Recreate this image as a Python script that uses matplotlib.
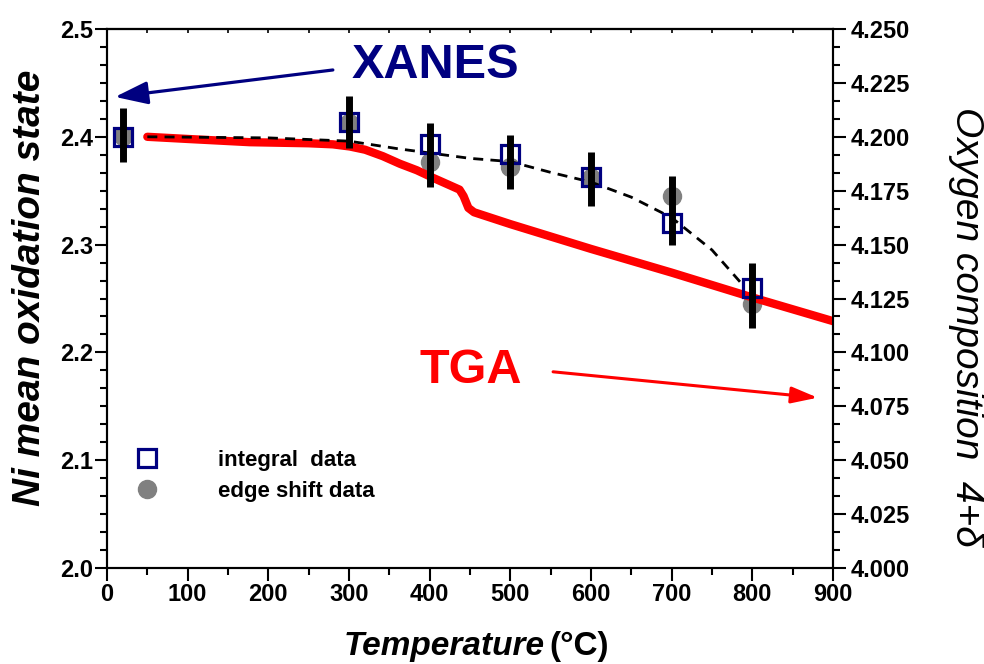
import matplotlib
matplotlib.use("Agg")
import matplotlib.pyplot as plt
from matplotlib.ticker import AutoMinorLocator, FormatStrFormatter
from matplotlib.lines import Line2D

plt.rcParams['font.family'] = ['Liberation Sans', 'DejaVu Sans']

# ---- data ----
temp_pts = [20, 300, 400, 500, 600, 700, 800]
integral_vals = [2.400, 2.414, 2.393, 2.384, 2.363, 2.320, 2.260]
edge_vals = [2.401, 2.413, 2.377, 2.372, 2.362, 2.345, 2.245]
err_center = [2.402, 2.414, 2.383, 2.377, 2.361, 2.332, 2.253]
err_size = [0.025, 0.024, 0.030, 0.025, 0.025, 0.032, 0.030]

fit_T = [50, 200, 300, 360, 450, 500, 550, 600, 650, 700, 750, 790]
fit_vals = [2.400, 2.399, 2.396, 2.389, 2.380, 2.377, 2.367, 2.358, 2.344, 2.325, 2.295, 2.261]

tga_T = [50, 100, 177, 250, 280, 301, 320, 342, 363, 384, 404, 437, 442, 448, 455,
         500, 600, 700, 800, 900]
tga_vals = [2.400, 2.398, 2.395, 2.394, 2.393, 2.391, 2.388, 2.382, 2.375, 2.369, 2.362,
            2.351, 2.345, 2.334, 2.330, 2.319, 2.296, 2.274, 2.251, 2.229]

x_ticks = [0, 100, 200, 300, 400, 500, 600, 700, 800, 900]
left_ticks = [2.0, 2.1, 2.2, 2.3, 2.4, 2.5]
right_ticks = [4.000, 4.025, 4.050, 4.075, 4.100, 4.125, 4.150, 4.175, 4.200, 4.225, 4.250]

NAVY = '#000080'
GRAY = '#808080'
TICK_FS = 17

fig = plt.figure(figsize=(9.84, 6.64), dpi=100)
ax = fig.add_axes([107/984, 1-568/664, (833-107)/984, (568-29)/664])

# markers and curves
ax.plot(temp_pts, edge_vals, 'o', color=GRAY, markersize=13, zorder=2)
ax.plot(tga_T, tga_vals, '-', color='#ff0000', lw=6, solid_capstyle='round',
        solid_joinstyle='round', zorder=3)
ax.plot(fit_T, fit_vals, '--', color='black', lw=2.0, dashes=(3.6, 2.6), zorder=4)
ax.plot(temp_pts, integral_vals, 's', mfc='none', mec=NAVY, mew=2.3,
        markersize=12.5, zorder=5)
ax.errorbar(temp_pts, err_center, yerr=err_size, fmt='none', ecolor='black',
            elinewidth=5, capsize=0, zorder=6)

ax.set_xlim(0, 900)
ax.set_ylim(2.0, 2.5)
ax.set_xticks(x_ticks)
ax.set_yticks(left_ticks)
ax.yaxis.set_major_formatter(FormatStrFormatter('%.1f'))
ax.xaxis.set_minor_locator(AutoMinorLocator(2))
ax.yaxis.set_minor_locator(AutoMinorLocator(6))

for s in ax.spines.values():
    s.set_linewidth(1.5)

ax.tick_params(axis='x', which='major', direction='out', length=9, width=1.5,
               labelsize=TICK_FS, pad=2, top=False)
ax.tick_params(axis='x', which='minor', direction='out', length=5, width=1.5, top=False)
ax.tick_params(axis='y', which='major', direction='out', length=9, width=1.5,
               labelsize=TICK_FS, pad=1, right=False)
ax.tick_params(axis='y', which='minor', direction='out', length=5, width=1.5, right=False)
for lbl in ax.get_xticklabels() + ax.get_yticklabels():
    lbl.set_fontweight('bold')

# top ticks (small, inward)
axt = ax.secondary_xaxis('top')
axt.set_xticks(x_ticks)
axt.xaxis.set_minor_locator(AutoMinorLocator(2))
axt.tick_params(axis='x', which='both', direction='in', length=3, width=1.2,
                labeltop=False)
axt.spines['top'].set_linewidth(1.5)

# right axis
ax2 = ax.twinx()
ax2.set_ylim(4.0, 4.25)
ax2.set_yticks(right_ticks)
ax2.yaxis.set_major_formatter(FormatStrFormatter('%.3f'))
ax2.yaxis.set_minor_locator(AutoMinorLocator(3))
ax2.tick_params(axis='y', which='major', direction='out', length=9, width=1.5,
                labelsize=TICK_FS, pad=4)
ax2.tick_params(axis='y', which='minor', direction='out', length=5, width=1.5)
for lbl in ax2.get_yticklabels():
    lbl.set_fontweight('bold')
for s in ax2.spines.values():
    s.set_linewidth(1.5)

# annotations
ax.text(303, 2.4545, 'XANES', color=NAVY, fontsize=35, fontweight='bold',
        ha='left', va='baseline', zorder=7)
ax.annotate('', xy=(10, 2.437), xytext=(280, 2.462),
            arrowprops=dict(arrowstyle='-|>,head_length=1.0,head_width=0.35',
                            color=NAVY, lw=2.3, mutation_scale=20,
                            shrinkA=0, shrinkB=0), zorder=7)
ax.text(388, 2.1716, 'TGA', color='#ff0000', fontsize=35, fontweight='bold',
        ha='left', va='baseline', zorder=7)
ax.annotate('', xy=(881, 2.158), xytext=(553, 2.182),
            arrowprops=dict(arrowstyle='-|>,head_length=0.8,head_width=0.25',
                            color='#ff0000', lw=2.2, mutation_scale=20,
                            shrinkA=0, shrinkB=0), zorder=7)

# legend
h1 = Line2D([], [], linestyle='none', marker='s', mfc='white', mec=NAVY,
            mew=2.3, markersize=12.5)
h2 = Line2D([], [], linestyle='none', marker='o', color=GRAY, markersize=13)
leg = ax.legend([h1, h2], ['integral  data', 'edge shift data'],
                loc='center left', bbox_to_anchor=(0.04, 0.1707),
                frameon=False, borderpad=0, borderaxespad=0,
                handlelength=1.0, handletextpad=2.7, labelspacing=0.45,
                prop=dict(size=16, weight='bold'))

# axis labels
fig.text(30/984, 1-288/664, 'Ni mean oxidation state', rotation=90,
         fontsize=28, fontweight='bold', fontstyle='italic', ha='center', va='center')
fig.text(966/984, 1-327/664, 'Oxygen composition  4+\u03b4', rotation=270,
         fontsize=28, fontstyle='italic', ha='center', va='center')
fig.text(545/984, 1-655/664, 'Temperature', fontsize=24, fontweight='bold',
         fontstyle='italic', ha='right', va='baseline')
fig.text(549/984, 1-655/664, '(\u00b0C)', fontsize=24, fontweight='bold',
         ha='left', va='baseline')

fig.savefig('out.png', dpi=100)
